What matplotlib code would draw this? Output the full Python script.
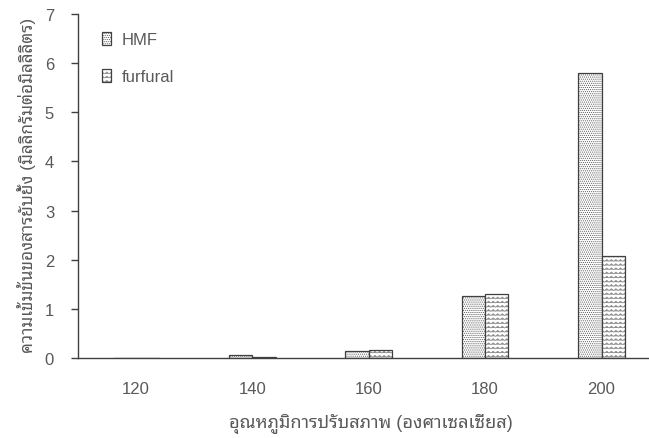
import numpy as np
import matplotlib
matplotlib.use('Agg')
import matplotlib.pyplot as plt
from matplotlib import font_manager
from matplotlib import hatch as mhatch
from matplotlib.colors import to_rgba
from matplotlib.path import Path
from matplotlib.patches import Patch

temps = ['120', '140', '160', '180', '200']
hmf = [0.01, 0.06, 0.15, 1.26, 5.80]
furfural = [0.01, 0.02, 0.16, 1.30, 2.08]


class WaveHatch(mhatch.HatchPatternBase):
    """zigzag hatch, drawn for every '~' in the pattern"""
    periods = 22

    def __init__(self, hatch, density):
        self.num_lines = int(hatch.count('~') * density)
        self.num_vertices = self.num_lines * (2 * self.periods + 1)

    def set_vertices_and_codes(self, vertices, codes):
        n = 2 * self.periods + 1
        xs = np.linspace(0.0, 1.0, n)
        amp = 0.22 / self.num_lines
        wig = np.where(np.arange(n) % 2 == 0, -amp, amp)
        steps = (np.arange(self.num_lines) + 0.5) / self.num_lines
        for i, y in enumerate(steps):
            vertices[i * n:(i + 1) * n, 0] = xs
            vertices[i * n:(i + 1) * n, 1] = y + wig
            codes[i * n] = Path.MOVETO
            codes[i * n + 1:(i + 1) * n] = Path.LINETO


mhatch._hatch_types.append(WaveHatch)

# pick a Thai-capable family
installed = {f.name for f in font_manager.fontManager.ttflist}
thai = next((n for n in ['Noto Sans Thai Looped', 'IBM Plex Sans Thai Looped',
                         'Noto Sans Thai', 'IBM Plex Sans Thai', 'Sarabun']
             if n in installed), 'DejaVu Sans')
plt.rcParams['font.family'] = ['Liberation Sans', thai, 'DejaVu Sans']
plt.rcParams['hatch.linewidth'] = 0.5

text_col = '#595959'
edge_col = '#404040'
hmf_hatch, hmf_hcol = '........', '#555555'
fur_hatch, fur_hcol = '~~~~', '#8c8c8c'
fs = 12

fig = plt.figure(figsize=(6.49, 4.39), dpi=100)
ax = fig.add_axes([77.7 / 649, 80 / 439, 582 / 649, 344 / 439])

x = np.arange(len(temps))
w = 0.2
b1 = ax.bar(x - w / 2, hmf, w, facecolor='white', edgecolor=edge_col,
            linewidth=0.9, hatch=hmf_hatch, label='HMF')
b2 = ax.bar(x + w / 2, furfural, w, facecolor='white', edgecolor=edge_col,
            linewidth=0.9, hatch=fur_hatch, label='furfural')
for r in b1:
    r._hatch_color = to_rgba(hmf_hcol)
for r in b2:
    r._hatch_color = to_rgba(fur_hcol)

ax.set_xlim(-0.5, len(temps) - 0.5)
ax.set_ylim(0, 7)
ax.set_xticks(x)
ax.set_xticklabels(temps)
ax.set_yticks(range(0, 8))

for s in ['top', 'right']:
    ax.spines[s].set_visible(False)
for s in ['left', 'bottom']:
    ax.spines[s].set_color(edge_col)
    ax.spines[s].set_linewidth(1.0)

ax.tick_params(axis='x', length=0, pad=16.5, labelsize=fs, colors=text_col)
ax.tick_params(axis='y', length=5, width=1.0, color=edge_col, pad=12,
               labelsize=fs, labelcolor=text_col, direction='out')

ax.set_xlabel('อุณหภูมิการปรับสภาพ (องศาเซลเซียส)', fontsize=13,
              color=text_col)
ax.xaxis.label.set_va('center')
ax.xaxis.set_label_coords((371 - 77.7) / 582, (359 - 424) / 344)

ax.set_ylabel('ความเข้มข้นของสารยับยั้ง (มิลลิกรัมต่อมิลลิลิตร)', fontsize=12.4,
              color=text_col)
ax.yaxis.label.set_va('center')
ax.yaxis.set_label_coords((27 - 77.7) / 582, (359 - 185) / 344)

handles = [Patch(facecolor='white', edgecolor=edge_col, linewidth=0.9,
                 hatch=hmf_hatch, label='HMF'),
           Patch(facecolor='white', edgecolor=edge_col, linewidth=0.9,
                 hatch=fur_hatch, label='furfural')]
leg = ax.legend(handles=handles, loc='upper left',
                bbox_to_anchor=(102 / 649, 1 - 33 / 439),
                bbox_transform=fig.transFigure, frameon=False,
                borderpad=0, borderaxespad=0,
                handlelength=0.55, handleheight=0.8, handletextpad=0.65,
                labelspacing=1.3, fontsize=fs)
for t in leg.get_texts():
    t.set_color(text_col)
for h, c in zip(leg.legend_handles, [hmf_hcol, fur_hcol]):
    h._hatch_color = to_rgba(c)

fig.savefig('out.png', dpi=100)
